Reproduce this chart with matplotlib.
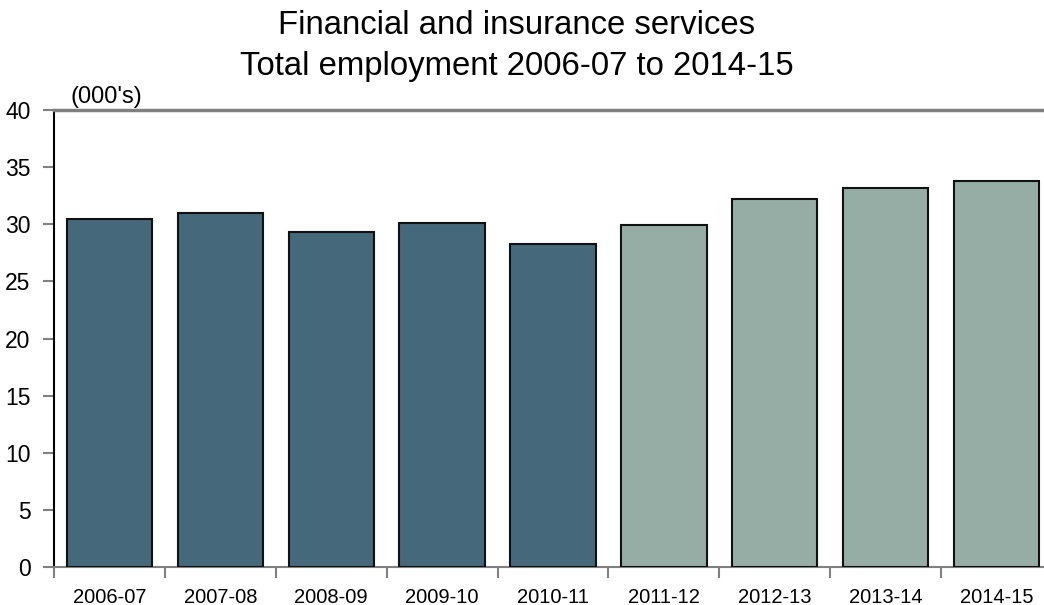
import numpy as np
import matplotlib
matplotlib.use("Agg")
import matplotlib.pyplot as plt

plt.rcParams['font.family'] = ['Liberation Sans', 'DejaVu Sans']

years = ['2006-07', '2007-08', '2008-09', '2009-10', '2010-11',
         '2011-12', '2012-13', '2013-14', '2014-15']
employment = [30.5, 31.0, 29.3, 30.1, 28.3, 29.9, 32.2, 33.2, 33.8]
n_actual = 5  # first five years are actuals, the rest projections

DARK = '#46687b'
LIGHT = '#96ada6'
GREY = '#808080'

fig = plt.figure(figsize=(10.44, 6.05), dpi=100)
ax = fig.add_axes([54 / 1044, 38 / 605, 998 / 1044, 457 / 605])

x = np.arange(len(years))
colors = [DARK if i < n_actual else LIGHT for i in range(len(years))]
ax.bar(x, employment, width=0.77, color=colors, edgecolor='#111111', linewidth=1.5, zorder=3)

ax.set_xlim(-0.5, len(years) - 0.5)
ax.set_ylim(0, 40)
ax.set_yticks(np.arange(0, 41, 5))
ax.tick_params(axis='y', direction='out', length=8, width=1.5, color=GREY,
               labelsize=16.5, pad=9)

ax.set_xticks(x)
ax.set_xticklabels(years)
ax.tick_params(axis='x', which='major', length=0, labelsize=14.5, pad=15)
ax.set_xticks(np.arange(-0.5, len(years), 1), minor=True)
ax.tick_params(axis='x', which='minor', direction='out', length=8, width=1.5, color=GREY)

ax.spines['left'].set_color('black')
ax.spines['left'].set_linewidth(1.5)
ax.spines['bottom'].set_color(GREY)
ax.spines['bottom'].set_linewidth(1.5)
ax.spines['top'].set_color(GREY)
ax.spines['top'].set_linewidth(2.5)
ax.spines['right'].set_visible(False)

ax.text(16 / 998, 1.005, "(000's)", transform=ax.transAxes, fontsize=17,
        ha='left', va='bottom')

fig.text(517 / 1044, 1 - 34 / 605, 'Financial and insurance services',
         ha='center', va='baseline', fontsize=23.7)
fig.text(517 / 1044, 1 - 75 / 605, 'Total employment 2006-07 to 2014-15',
         ha='center', va='baseline', fontsize=23.7)

fig.savefig('out.png', dpi=100)
